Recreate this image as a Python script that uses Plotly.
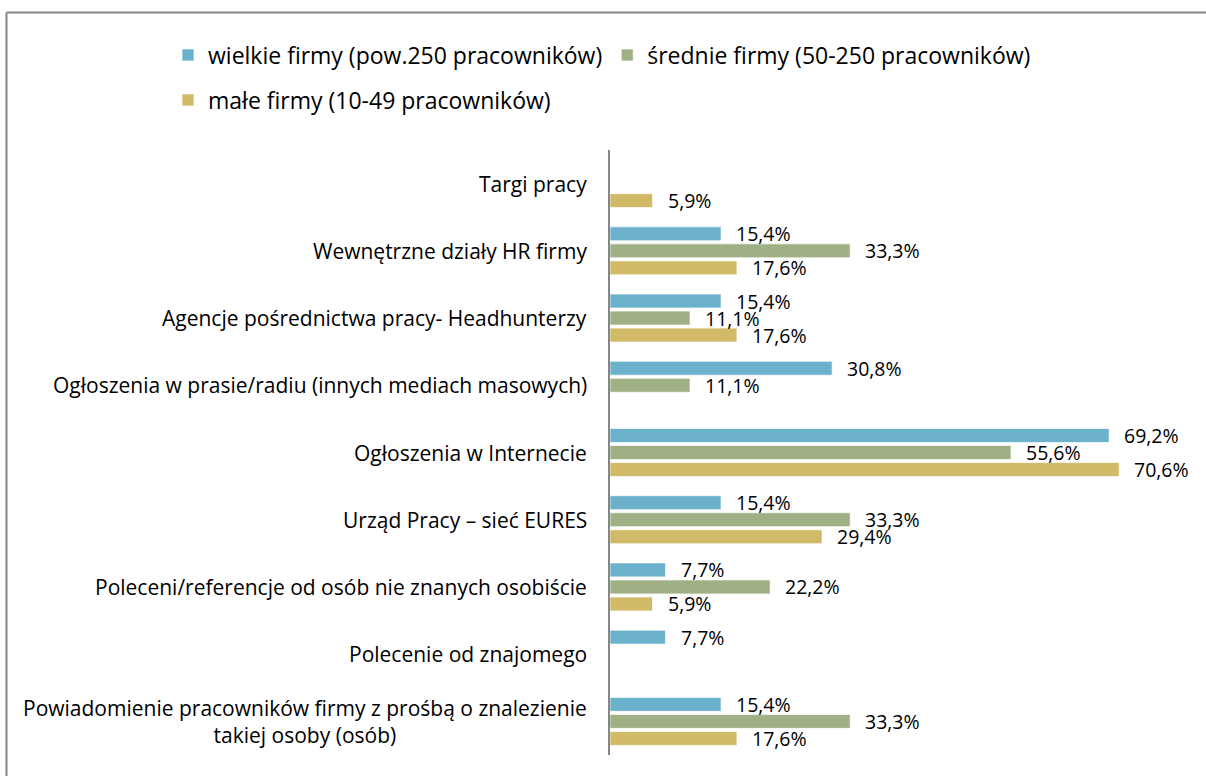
import plotly.graph_objects as go

# Recruitment channels used by firms, by company size (percent of firms)
categories = [
    "Targi pracy",
    "Wewnętrzne działy HR firmy",
    "Agencje pośrednictwa pracy- Headhunterzy",
    "Ogłoszenia w prasie/radiu (innych mediach masowych)",
    "Ogłoszenia w Internecie",
    "Urząd Pracy – sieć EURES",
    "Poleceni/referencje od osób nie znanych osobiście",
    "Polecenie od znajomego",
    "Powiadomienie pracowników firmy z prośbą o znalezienie<br>takiej osoby (osób)",
]

series_names = [
    "wielkie firmy (pow.250 pracowników)",
    "średnie firmy (50-250 pracowników)",
    "małe firmy (10-49 pracowników)",
]

wielkie = [None, 15.4, 15.4, 30.8, 69.2, 15.4, 7.7, 7.7, 15.4]
srednie = [None, 33.3, 11.1, 11.1, 55.6, 33.3, 22.2, None, 33.3]
male = [5.9, 17.6, 17.6, None, 70.6, 29.4, 5.9, None, 17.6]

colors = ["#6BB1CB", "#9EB084", "#D0B967"]
legends = ["legend", "legend", "legend2"]

FONT = "Open Sans"
W, H = 1206, 776
ML, MR, MT, MB = 610, 19, 150, 21
X_MAX = 80
BARGAP = 0.24

fig = go.Figure()
for name, vals, col, lg in zip(series_names, [wielkie, srednie, male], colors, legends):
    fig.add_trace(go.Bar(
        y=categories, x=vals, name=name, orientation="h",
        marker=dict(color=col, line=dict(color="rgba(255,255,255,0.7)", width=1)),
        legend=lg,
    ))

plot_w = W - ML - MR
plot_h = H - MT - MB
slot_px = plot_h / len(categories) * (1 - BARGAP) / 3

annotations = []
# value labels next to each bar
for i, vals in enumerate([wielkie, srednie, male]):
    for cat, v in zip(categories, vals):
        if v is None:
            continue
        annotations.append(dict(
            x=v, y=cat, xref="x", yref="y",
            text=f"{v:.1f}".replace(".", ",") + "%",
            showarrow=False, xanchor="left", yanchor="middle",
            xshift=13, yshift=(1 - i) * slot_px,
            font=dict(family=FONT, size=19.5, color="#000000"),
        ))
# category labels, centred line by line and right-aligned to the axis
for cat in categories:
    annotations.append(dict(
        x=0, y=cat, xref="paper", yref="y", text=cat,
        showarrow=False, xanchor="right", yanchor="middle", align="center",
        xshift=-21, font=dict(family=FONT, size=21, color="#000000"),
    ))

# frame lines along the top and left edges
x_left = (6.5 - ML) / plot_w
y_top = 1 + (MT - 12.5) / plot_h
y_bot = -(MB + 5) / plot_h
x_right = 1 + (MR + 5) / plot_w
shapes = [
    dict(type="line", xref="paper", yref="paper", x0=x_left, x1=x_right, y0=y_top, y1=y_top,
         line=dict(color="#868686", width=2)),
    dict(type="line", xref="paper", yref="paper", x0=x_left, x1=x_left, y0=y_top, y1=y_bot,
         line=dict(color="#868686", width=2)),
]

legend_common = dict(
    orientation="h", xref="paper", yref="paper",
    xanchor="left", yanchor="middle",
    font=dict(family=FONT, size=23, color="#000000"),
    bgcolor="rgba(0,0,0,0)", itemwidth=30, itemclick=False, itemdoubleclick=False,
)

legend_x = (168 - ML) / plot_w
fig.update_layout(
    width=W, height=H,
    margin=dict(l=ML, r=MR, t=MT, b=MB, autoexpand=False),
    paper_bgcolor="white", plot_bgcolor="white",
    barmode="group", bargap=BARGAP, bargroupgap=0.18,
    showlegend=True,
    legend=dict(x=legend_x, y=1 + (MT - 55) / plot_h, **legend_common),
    legend2=dict(x=legend_x, y=1 + (MT - 100) / plot_h, **legend_common),
    xaxis=dict(range=[0, X_MAX], visible=False, fixedrange=True),
    yaxis=dict(type="category", autorange="reversed", showticklabels=False,
               showline=True, linecolor="#868686", linewidth=2, ticks="",
               showgrid=False, zeroline=False, fixedrange=True),
    annotations=annotations,
    shapes=shapes,
    font=dict(family=FONT),
)

fig.write_html("out.html")
